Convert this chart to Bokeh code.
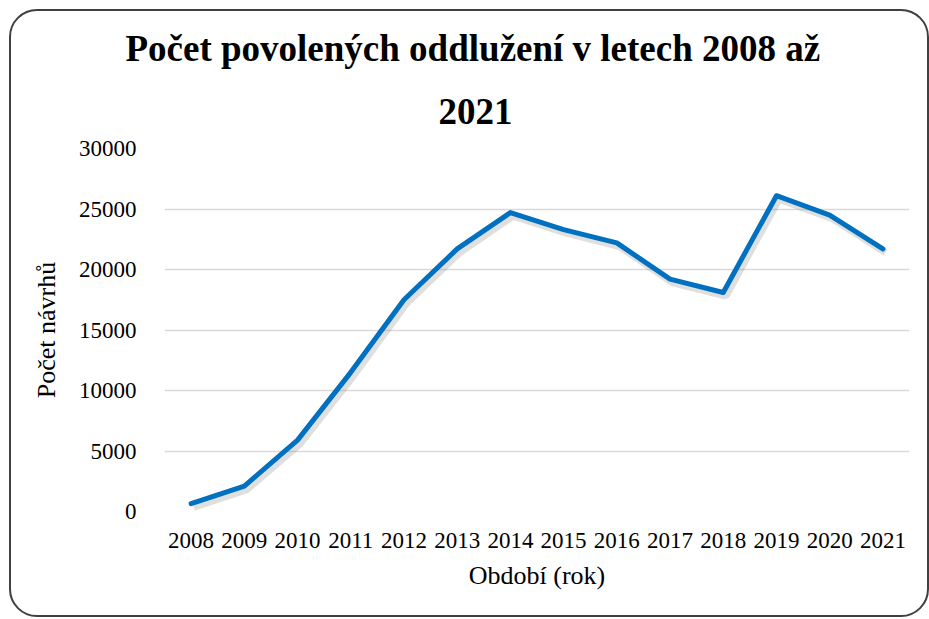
from bokeh.plotting import figure
from bokeh.models import ColumnDataSource, SingleIntervalTicker, NumeralTickFormatter, Title
from bokeh.transform import dodge
from bokeh.embed import file_html
from bokeh.resources import INLINE

years = ["2008", "2009", "2010", "2011", "2012", "2013", "2014",
         "2015", "2016", "2017", "2018", "2019", "2020", "2021"]
counts = [650, 2100, 5900, 11500, 17500, 21700, 24700,
          23300, 22200, 19200, 18100, 26100, 24500, 21700]

title_line1 = "Počet povolených oddlužení v letech 2008 až"
title_line2 = "2021"
x_label = "Období (rok)"
y_label = "Počet návrhů"

src = ColumnDataSource(data=dict(year=years, count=counts))

FONT = "'Liberation Serif', 'Times New Roman', serif"
LABEL_FONT = "Liberation Serif"

p = figure(x_range=years, y_range=(0, 30000), width=920, height=608,
           output_backend="svg", toolbar_location=None,
           min_border_left=153, min_border_right=22, min_border_top=137,
           min_border_bottom=108)
p.margin = (9, 0, 0, 9)

p.styles = {"border": "2px solid #404040", "border-radius": "28px"}
p.outline_line_color = None
p.background_fill_color = "white"
p.border_fill_color = None

p.title.visible = False

t2 = Title(text=title_line2, text_font=FONT, text_font_size="37px",
           text_font_style="bold", text_color="black", align="left",
           offset=274, standoff=45, text_line_height=1.0, vertical_align="top")
t1 = Title(text=title_line1, text_font=FONT, text_font_size="37px",
           text_font_style="bold", text_color="black", align="left",
           offset=-39, standoff=16, text_line_height=1.0)
p.add_layout(t2, "above")
p.add_layout(t1, "above")

xl = Title(text=x_label, text_font=LABEL_FONT, text_font_size="26px",
           text_font_style="normal", text_color="black", align="center",
           standoff=16)
yl = Title(text=y_label, text_font=LABEL_FONT, text_font_size="26px",
           text_font_style="normal", text_color="black", align="center",
           standoff=30)
p.add_layout(xl, "below")
p.add_layout(yl, "left")

# shadow
p.line(x=dodge("year", 0.05, range=p.x_range), y=dodge("count", -300), source=src,
       line_color="#808080", line_alpha=0.25, line_width=7)
p.line(x="year", y="count", source=src, line_color="#0070C0", line_width=5,
       line_join="round", line_cap="round")

p.xgrid.grid_line_color = None
p.ygrid.grid_line_color = "#d9d9d9"
p.ygrid.grid_line_width = 1.5

p.yaxis.ticker = SingleIntervalTicker(interval=5000)
p.yaxis.formatter = NumeralTickFormatter(format="0")

for ax in (p.xaxis[0], p.yaxis[0]):
    ax.axis_line_color = None
    ax.major_tick_line_color = None
    ax.minor_tick_line_color = None
    ax.major_label_text_font = FONT
    ax.major_label_text_font_size = "23px"
    ax.major_label_text_color = "black"

p.xaxis.major_label_standoff = 15
p.yaxis.major_label_standoff = 22

open("out.html", "w").write(file_html(p, INLINE))
